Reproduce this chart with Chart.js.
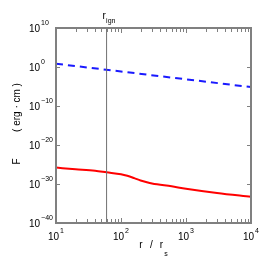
<!DOCTYPE html>
<html>
<head>
<meta charset="utf-8">
<script src="https://cdn.jsdelivr.net/npm/chart.js@4.4.0/dist/chart.umd.min.js"></script>
<style>
html, body { margin: 0; padding: 0; background: #fff; }
canvas { display: block; }
</style>
</head>
<body>
<canvas id="fluxChart" width="280" height="280"></canvas>
<script>
// r in units of r_s, F in erg cm
var rRed = [10, 20, 40, 60, 100, 125, 160, 200, 250, 300, 600, 1000, 3000, 10000];
var fRed = [1.6e-26, 6.3e-27, 2.5e-27, 1.0e-27, 3.2e-28, 1.3e-28, 3.2e-29, 8.0e-30, 2.8e-30, 1.4e-30, 2.5e-31, 6.3e-32, 5.0e-33, 5.0e-34];
var rBlue = [10, 100, 1000, 10000];
var fBlue = [7, 7e-2, 7e-4, 7e-6];
var rIgn = 60;
var xTicks = [10, 100, 1000, 10000];
var xExp = ['1', '2', '3', '4'];
var yTicks = [1e10, 1e0, 1e-10, 1e-20, 1e-30, 1e-40];
var yExp = ['10', '0', '\u221210', '\u221220', '\u221230', '\u221240'];

var FONT = 'Liberation Sans, Arial, sans-serif';
var AXIS_GRAY = '#808080';

function toPoints(xs, ys) {
    var pts = [];
    for (let i = 0; i < xs.length; i++) {
        pts.push({ x: xs[i], y: ys[i] });
    }
    return pts;
}

// matlab style box, inward ticks and 10^n labels
const axesDecor = {
    id: 'axesDecor',
    afterDraw: function (chart) {
        const ctx = chart.ctx;
        const area = chart.chartArea;
        const xs = chart.scales.x;
        const ys = chart.scales.y;
        ctx.save();

        // ticks
        ctx.strokeStyle = AXIS_GRAY;
        ctx.lineWidth = 1;
        ctx.beginPath();
        for (let d = 10; d < 10000; d *= 10) {
            for (let m = 1; m < 10; m++) {
                var px = Math.round(xs.getPixelForValue(d * m)) + 0.5;
                var len = m == 1 ? 4 : 3;
                ctx.moveTo(px, area.bottom - 1);
                ctx.lineTo(px, area.bottom - 1 - len);
                ctx.moveTo(px, area.top + 1);
                ctx.lineTo(px, area.top + 1 + len);
            }
        }
        for (let i = 0; i < yTicks.length; i++) {
            var py = Math.round(ys.getPixelForValue(yTicks[i])) + 0.5;
            ctx.moveTo(area.left + 1, py);
            ctx.lineTo(area.left + 4, py);
            ctx.moveTo(area.right - 1, py);
            ctx.lineTo(area.right - 4, py);
        }
        ctx.stroke();

        // box
        ctx.lineWidth = 2;
        ctx.strokeRect(area.left, area.top, area.right - area.left, area.bottom - area.top);

        ctx.fillStyle = '#000';

        // y tick labels
        ctx.textBaseline = 'alphabetic';
        ctx.textAlign = 'left';
        for (let i = 0; i < yTicks.length; i++) {
            var ty = ys.getPixelForValue(yTicks[i]);
            ctx.font = '10px ' + FONT;
            ctx.fillText('10', area.left - 27, ty + 4);
            var w = ctx.measureText('10').width;
            ctx.font = '7px ' + FONT;
            ctx.fillText(yExp[i], area.left - 27 + w + 1, ty - 3);
        }

        // x tick labels
        for (let i = 0; i < xTicks.length; i++) {
            var tx = xs.getPixelForValue(xTicks[i]);
            ctx.font = '10px ' + FONT;
            var w1 = ctx.measureText('10').width;
            ctx.font = '7px ' + FONT;
            var w2 = ctx.measureText(xExp[i]).width;
            var x0 = tx - (w1 + 1 + w2) / 2;
            ctx.font = '10px ' + FONT;
            ctx.fillText('10', x0, area.bottom + 17);
            ctx.font = '7px ' + FONT;
            ctx.fillText(xExp[i], x0 + w1 + 1, area.bottom + 10);
        }

        // x axis title: r / r_s
        var cx = (area.left + area.right) / 2;
        ctx.font = '10px ' + FONT;
        ctx.textAlign = 'center';
        ctx.fillText('r', cx - 12.5, area.bottom + 25);
        ctx.fillText('/', cx - 2, area.bottom + 25);
        ctx.fillText('r', cx + 8, area.bottom + 25);
        ctx.font = '7px ' + FONT;
        ctx.fillText('s', cx + 12.5, area.bottom + 33);

        // y axis title
        var cy = (area.top + area.bottom) / 2;
        ctx.save();
        ctx.translate(20, cy);
        ctx.rotate(-Math.PI / 2);
        ctx.font = '10px ' + FONT;
        ctx.textAlign = 'center';
        ctx.fillText('F', -36, 0);
        ctx.fillText('( erg \u00b7 cm )', 18, 0);
        ctx.restore();

        // r_ign label
        var ix = xs.getPixelForValue(rIgn);
        ctx.textAlign = 'left';
        ctx.font = '10px ' + FONT;
        ctx.fillText('r', ix - 4, area.top - 9);
        ctx.font = '7px ' + FONT;
        ctx.fillText('ign', ix - 0.5, area.top - 5);

        ctx.restore();
    }
};

const ctx = document.getElementById('fluxChart');

const data = {
    datasets: [
        {
            label: 'r_ign',
            data: [{ x: rIgn, y: 1e-40 }, { x: rIgn, y: 1e10 }],
            borderColor: '#707070',
            borderWidth: 1,
            pointRadius: 0
        },
        {
            label: 'upper',
            data: toPoints(rBlue, fBlue),
            borderColor: '#1a1aff',
            borderWidth: 2,
            borderDash: [7, 5],
            pointRadius: 0
        },
        {
            label: 'lower',
            data: toPoints(rRed, fRed),
            borderColor: '#ff0000',
            borderWidth: 2,
            cubicInterpolationMode: 'monotone',
            pointRadius: 0
        }
    ]
};

const config = {
    type: 'line',
    data: data,
    options: {
        responsive: false,
        animation: false,
        devicePixelRatio: 1,
        layout: { padding: { left: 56, right: 29, top: 28, bottom: 57 } },
        plugins: {
            legend: { display: false },
            tooltip: { enabled: false }
        },
        scales: {
            x: { type: 'logarithmic', min: 10, max: 10000, display: false },
            y: { type: 'logarithmic', min: 1e-40, max: 1e10, display: false }
        }
    },
    plugins: [axesDecor]
};

const fluxChart = new Chart(ctx, config);
</script>
</body>
</html>
